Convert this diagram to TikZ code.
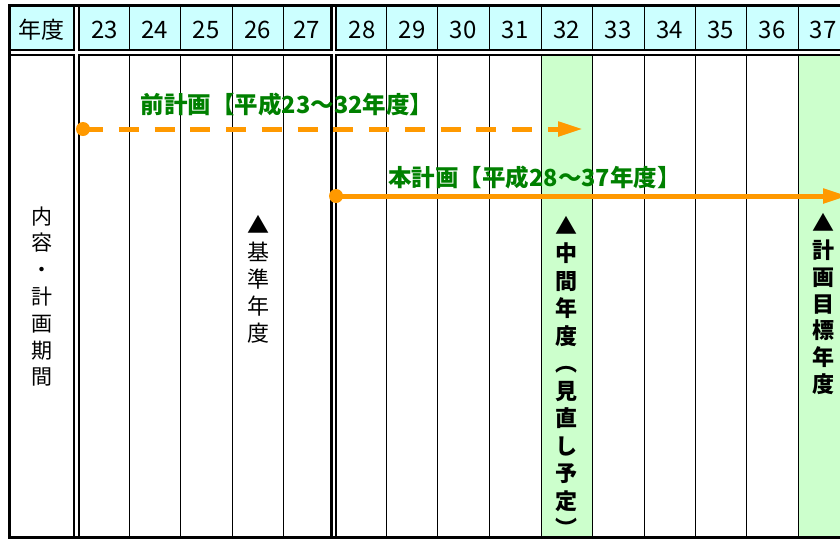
\documentclass[tikz,border=0pt]{standalone}
\usepackage{fontspec}
\newfontfamily\jp{Noto Sans CJK JP}
\usetikzlibrary{arrows.meta}
\definecolor{hdr}{HTML}{CCFFFF}
\definecolor{hl}{HTML}{CCFFCC}
\definecolor{arr}{HTML}{FF9900}
\definecolor{lbl}{HTML}{008000}
\begin{document}
\begin{tikzpicture}[x=1pt,y=-1pt,
  border/.style={line width=3pt},
  band/.style={line width=7.4pt},
  gap/.style={draw=white,line width=2.3pt},
  grid/.style={line width=1pt},
  hdrtext/.style={font=\jp\fontsize{24}{24}\selectfont, inner sep=0pt},
  vtext/.style={font=\jp\fontsize{22}{27}\selectfont, align=center, inner sep=0pt},
  vbold/.style={font=\jp\bfseries\fontsize{22}{27.5}\selectfont, align=center, inner sep=0pt},
  plan/.style={font=\jp\bfseries\fontsize{23.5}{23.5}\selectfont, text=lbl, inner sep=0pt},
  planline/.style={draw=arr, line width=5pt},
  dot/.style={circle, fill=arr, minimum size=14pt, inner sep=0pt},
]
\useasboundingbox (0,0) rectangle (840,539);
% fills
\fill[hdr] (9,5.5) rectangle (76.5,52.35);
\fill[hdr] (76.5,5.5) rectangle (333.7,52.35);
\fill[hdr] (333.7,5.5) rectangle (850,52.35);
\fill[hl] (541,52.35) rectangle (592,537);
\fill[hl] (798,52.35) rectangle (850,537);
% thin grid lines
\foreach \x in {129,180,232,283,386.5,437.5,489,541,592,644,695,746,798}{
  \draw[grid] (\x,5.5) -- (\x,50);
  \draw[grid] (\x,54.7) -- (\x,537);
}
% thick borders and double lines
\draw[border] (9,5.5) -- (850,5.5);
\draw[border] (9,537) -- (850,537);
\draw[border] (9,4) -- (9,538.5);
\draw[band] (9,52.35) -- (850,52.35);
\draw[band] (76.5,5.5) -- (76.5,537);
\draw[band] (333.7,5.5) -- (333.7,537);
\draw[gap] (10.5,52.35) -- (850,52.35);
\draw[gap] (76.5,7) -- (76.5,535.5);
\draw[gap] (333.7,7) -- (333.7,535.5);
% header texts
\node[hdrtext, font=\jp\fontsize{23}{23}\selectfont] (hy) at (41.5,30) {年度};
\foreach \n/\x in {23/104.6,24/154.5,25/206,26/257.5,27/306.5,28/362,29/412,30/463,31/515,32/566.5,33/618,34/669.5,35/720.5,36/772,37/823}{
  \node[hdrtext] (h\n) at (\x,30) {\n};
}
% plan arrows
\node[dot] (s1) at (83,129) {};
\coordinate (e1) at (583,129);
\draw[planline, dash pattern=on 20pt off 15.75pt, -{Triangle[length=25pt,width=14pt]}] (s1.center) -- (e1);
\node[dot] (s2) at (336,196) {};
\coordinate (e2) at (848,196);
\draw[planline, -{Triangle[length=25pt,width=14pt]}] (s2.center) -- (e2);
\node[plan] (p1) at (287,104.5) {前計画【平成23～32年度】};
\node[plan] (p2) at (534.5,177.5) {本計画【平成28～37年度】};
% vertical labels
\node[vtext, font=\jp\fontsize{21}{26.8}\selectfont] (vl) at (42,296.5) {内\\容\\・\\計\\画\\期\\間};
\node[vtext] (vb) at (258,279) {▲\\基\\準\\年\\度};
\node[vbold] (vm) at (566.5,376.5) {▲\\中\\間\\年\\度\\︵\\見\\直\\し\\予\\定\\︶};
\node[vbold, font=\jp\bfseries\fontsize{22}{26.7}\selectfont] (vr) at (823,304) {▲\\計\\画\\目\\標\\年\\度};
\end{tikzpicture}
\end{document}
